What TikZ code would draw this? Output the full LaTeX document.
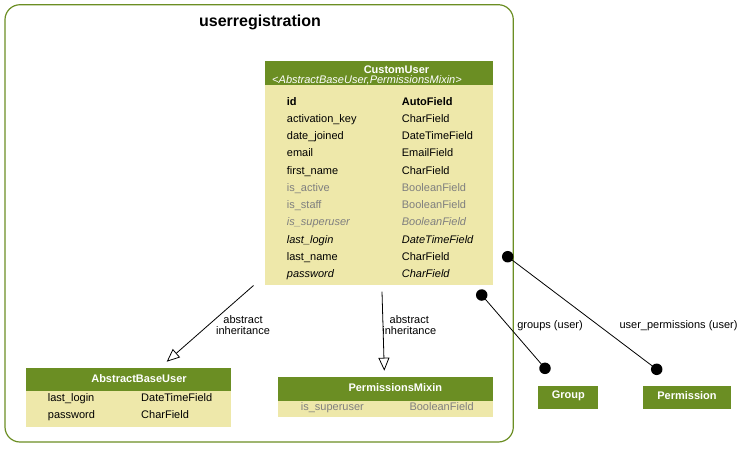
\documentclass[tikz,border=0pt]{standalone}
\usepackage{fontspec}
\setmainfont{Liberation Sans}
\usetikzlibrary{arrows.meta}
\definecolor{hdr}{HTML}{6B8E23}
\definecolor{bdy}{HTML}{EEE8AA}
\definecolor{graytxt}{HTML}{7F7F7F}
\begin{document}
\begin{tikzpicture}[x=1pt,y=-1pt,
  fs/.style={font=\fontsize{11}{12}\selectfont},
  hdrbox/.style={fill=hdr,draw=none,inner sep=0pt},
  fld/.style={fs,anchor=west,inner sep=0pt,text height=8pt,text depth=2.5pt},
  hdrtxt/.style={text=white,font=\fontsize{11}{12}\selectfont\bfseries,inner sep=0pt},
  gry/.style={text=graytxt},
  fb/.style={font=\fontsize{11}{12}\selectfont\bfseries},
  fi/.style={font=\fontsize{11}{12}\selectfont\itshape},
  elbl/.style={fs,align=center,inner sep=0pt},
  inh/.style={-{Triangle[open,length=13pt,width=11pt]},line width=0.8pt},
  rel/.style={line width=0.8pt},
  dot/.style={circle,fill=black,inner sep=0pt,minimum size=11.5pt}
]
\useasboundingbox (0,0) rectangle (746,448);
% cluster
\draw[hdr,line width=1.2pt,rounded corners=15pt] (5,4.7) rectangle (513.3,442);
\node[font=\fontsize{16}{18}\selectfont\bfseries,inner sep=0pt] (ctitle) at (260,22.7) {userregistration};

% CustomUser
\fill[hdr] (265,60.5) rectangle (492.5,84.5);
\fill[bdy] (265,84.5) rectangle (492.5,284.5);
\node[hdrtxt,text height=7.5pt,text depth=0pt] (cutitle) at (396.5,69.8) {CustomUser};
\node[fs,text=white,inner sep=0pt,text height=7.5pt,text depth=1.5pt] (cusub) at (367,80.3) {\itshape <AbstractBaseUser,PermissionsMixin>};
\node[fld,fb] (f1a) at (286.7,102.5) {id};
\node[fld,fb] (f1b) at (401.7,102.5) {AutoField};
\node[fld] (f2a) at (286.7,119.7) {activation\_key};
\node[fld] (f2b) at (401.7,119.7) {CharField};
\node[fld] (f3a) at (286.7,137.0) {date\_joined};
\node[fld] (f3b) at (401.7,137.0) {DateTimeField};
\node[fld] (f4a) at (286.7,154.2) {email};
\node[fld] (f4b) at (401.7,154.2) {EmailField};
\node[fld] (f5a) at (286.7,171.4) {first\_name};
\node[fld] (f5b) at (401.7,171.4) {CharField};
\node[fld,gry] (f6a) at (286.7,188.6) {is\_active};
\node[fld,gry] (f6b) at (401.7,188.6) {BooleanField};
\node[fld,gry] (f7a) at (286.7,205.9) {is\_staff};
\node[fld,gry] (f7b) at (401.7,205.9) {BooleanField};
\node[fld,gry,fi] (f8a) at (286.7,223.1) {is\_superuser};
\node[fld,gry,fi] (f8b) at (401.7,223.1) {BooleanField};
\node[fld,fi] (f9a) at (286.7,240.4) {last\_login};
\node[fld,fi] (f9b) at (401.7,240.4) {DateTimeField};
\node[fld] (f10a) at (286.7,257.6) {last\_name};
\node[fld] (f10b) at (401.7,257.6) {CharField};
\node[fld,fi] (f11a) at (286.7,274.8) {password};
\node[fld,fi] (f11b) at (401.7,274.8) {CharField};

% AbstractBaseUser
\fill[hdr] (26,367.7) rectangle (231,391);
\fill[bdy] (26,391) rectangle (231,426.7);
\node[hdrtxt] (abutitle) at (139,378.7) {AbstractBaseUser};
\node[fld] (a1a) at (47.7,398.5) {last\_login};
\node[fld] (a1b) at (141,398.5) {DateTimeField};
\node[fld] (a2a) at (47.7,415.8) {password};
\node[fld] (a2b) at (141,415.8) {CharField};

% PermissionsMixin
\fill[hdr] (278.3,377.3) rectangle (492.7,400.7);
\fill[bdy] (278.3,400.7) rectangle (492.7,417.3);
\node[hdrtxt] (pmtitle) at (395.3,387.5) {PermissionsMixin};
\node[fld,gry] (p1a) at (300.7,408.2) {is\_superuser};
\node[fld,gry] (p1b) at (409.3,408.2) {BooleanField};

% Group, Permission
\node[hdrbox,minimum width=60pt,minimum height=23.3pt] (group) at (568.3,397.3) {};
\node[hdrtxt] (grouptxt) at (568.3,395.5) {Group};
\node[hdrbox,minimum width=87.4pt,minimum height=23.3pt] (perm) at (687,397.3) {};
\node[hdrtxt] (permtxt) at (687,395.5) {Permission};

% inheritance edges
\coordinate (i1s) at (253.5,285.5);
\coordinate (i1e) at (166.7,361.7);
\draw[inh] (i1s) -- (i1e);
\node[elbl] (l1) at (243,325.3) {abstract\\[-1.5pt]inheritance};
\coordinate (i2s) at (382,291.7);
\coordinate (i2e) at (384.3,370.7);
\draw[inh] (i2s) -- (i2e);
\node[elbl] (l2) at (409.3,325.3) {abstract\\[-1.5pt]inheritance};

% relation edges
\node[dot] (d1) at (507.7,256.7) {};
\node[dot] (d2) at (656.7,369.3) {};
\node[dot] (d3) at (481.7,295) {};
\node[dot] (d4) at (545,368.3) {};
\draw[rel] (d1.center) -- (d2.center);
\draw[rel] (d3.center) -- (d4.center);
\node[fs,inner sep=0pt] (l3) at (550,325.7) {groups (user)};
\node[fs,inner sep=0pt] (l4) at (678.5,325.7) {user\_permissions (user)};
\end{tikzpicture}
\end{document}
